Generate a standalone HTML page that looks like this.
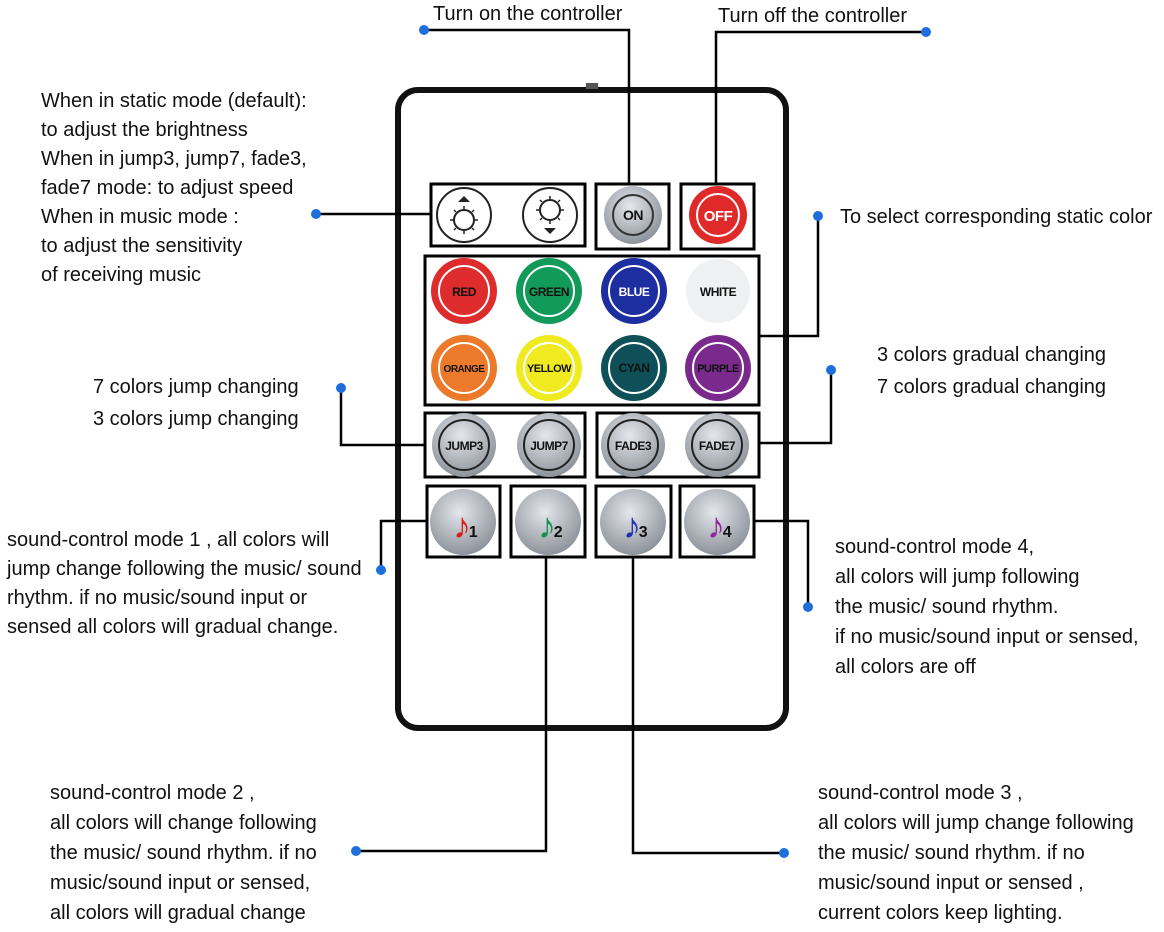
<!DOCTYPE html>
<html><head><meta charset="utf-8"><style>
html,body{margin:0;padding:0;background:#fff;}
svg{display:block}
text{font-family:"Liberation Sans",Arial,sans-serif;font-size:20px;letter-spacing:0;fill:#111}
.b{font-weight:bold;font-size:12px;letter-spacing:-0.5px;text-anchor:middle}
</style></head><body>
<svg width="1164" height="932" viewBox="0 0 1164 932" xmlns="http://www.w3.org/2000/svg">
<defs>
<radialGradient id="g" cx="45%" cy="35%" r="65%"><stop offset="0" stop-color="#e4e7ec"/><stop offset="1" stop-color="#8d939b"/></radialGradient>
</defs>
<rect x="398" y="90" width="388" height="638" rx="20" fill="none" stroke="#111" stroke-width="6"/>
<rect x="586" y="83" width="12" height="6" fill="#555"/>
<g fill="none" stroke="#000" stroke-width="3">
<rect x="431" y="184" width="154" height="62"/>
<rect x="596" y="184" width="73" height="65"/>
<rect x="681" y="184" width="73" height="65"/>
<rect x="425" y="256" width="334" height="149"/>
<rect x="425" y="413" width="160" height="64"/>
<rect x="597" y="413" width="162" height="64"/>
<rect x="427" y="486" width="73" height="71"/>
<rect x="511" y="486" width="74" height="71"/>
<rect x="596" y="486" width="75" height="71"/>
<rect x="680" y="486" width="74" height="71"/>
</g>
<g fill="#fff" stroke="#222" stroke-width="2">
<circle cx="464" cy="215" r="27"/><circle cx="550" cy="215" r="27"/>
<circle cx="464" cy="220" r="10"/><circle cx="550" cy="210" r="10"/>
</g>
<g stroke="#222" stroke-width="1.5">
<path d="M464 206v3M464 231v3M450 220h3M475 220h3M454 210l2 2M472 228l2 2M454 230l2-2M472 212l2-2"/>
<path d="M550 196v3M550 221v3M536 210h3M561 210h3M540 200l2 2M558 218l2 2M540 220l2-2M558 202l2-2"/>
</g>
<polygon points="458,202 464,196 470,202" fill="#222"/>
<polygon points="544,228 550,234 556,228" fill="#222"/>
<circle cx="633" cy="215" r="29" fill="url(#g)"/><circle cx="633" cy="215" r="20" fill="none" stroke="#333" stroke-width="2"/>
<text x="633" y="220" class="b" style="font-size:14px">ON</text>
<circle cx="718" cy="215" r="29" fill="#e02a2a"/><circle cx="718" cy="215" r="21" fill="none" stroke="#fff" stroke-width="2"/>
<text x="718" y="221" class="b" style="font-size:15px;fill:#fff">OFF</text>
<circle cx="464" cy="291" r="33" fill="#de2b2b"/><circle cx="464" cy="291" r="25" fill="none" stroke="#fff" stroke-width="2"/><text x="464" y="296" class="b">RED</text>
<circle cx="549" cy="291" r="33" fill="#129a5a"/><circle cx="549" cy="291" r="25" fill="none" stroke="#fff" stroke-width="2"/><text x="549" y="296" class="b">GREEN</text>
<circle cx="634" cy="291" r="33" fill="#1c2ea0"/><circle cx="634" cy="291" r="25" fill="none" stroke="#fff" stroke-width="2"/><text x="634" y="296" class="b" style="fill:#fff">BLUE</text>
<circle cx="718" cy="291" r="32" fill="#eef0f2"/><text x="718" y="296" class="b">WHITE</text>
<circle cx="464" cy="368" r="33" fill="#ec7a2a"/><circle cx="464" cy="368" r="25" fill="none" stroke="#fff" stroke-width="2"/><text x="464" y="372" class="b" style="font-size:10px">ORANGE</text>
<circle cx="549" cy="368" r="33" fill="#f0ea20"/><circle cx="549" cy="368" r="25" fill="none" stroke="#fff" stroke-width="2"/><text x="549" y="372" class="b" style="font-size:11px">YELLOW</text>
<circle cx="634" cy="368" r="33" fill="#0f5058"/><circle cx="634" cy="368" r="25" fill="none" stroke="#fff" stroke-width="2"/><text x="634" y="372" class="b">CYAN</text>
<circle cx="718" cy="368" r="33" fill="#7a2a8c"/><circle cx="718" cy="368" r="25" fill="none" stroke="#fff" stroke-width="2"/><text x="718" y="372" class="b" style="font-size:11px">PURPLE</text>
<circle cx="464" cy="445" r="32" fill="url(#g)"/><circle cx="464" cy="445" r="25" fill="none" stroke="#222" stroke-width="2"/><text x="464" y="450" class="b">JUMP3</text>
<circle cx="549" cy="445" r="32" fill="url(#g)"/><circle cx="549" cy="445" r="25" fill="none" stroke="#222" stroke-width="2"/><text x="549" y="450" class="b">JUMP7</text>
<circle cx="633" cy="445" r="32" fill="url(#g)"/><circle cx="633" cy="445" r="25" fill="none" stroke="#222" stroke-width="2"/><text x="633" y="450" class="b">FADE3</text>
<circle cx="717" cy="445" r="32" fill="url(#g)"/><circle cx="717" cy="445" r="25" fill="none" stroke="#222" stroke-width="2"/><text x="717" y="450" class="b">FADE7</text>
<circle cx="463" cy="522" r="33" fill="url(#g)"/><text x="453" y="538" style="font-size:36px;fill:#d42020">♪</text><text x="473" y="537" class="b" style="font-size:16px">1</text>
<circle cx="548" cy="522" r="33" fill="url(#g)"/><text x="538" y="538" style="font-size:36px;fill:#159050">♪</text><text x="558" y="537" class="b" style="font-size:16px">2</text>
<circle cx="633" cy="522" r="33" fill="url(#g)"/><text x="623" y="538" style="font-size:36px;fill:#2030b0">♪</text><text x="643" y="537" class="b" style="font-size:16px">3</text>
<circle cx="717" cy="522" r="33" fill="url(#g)"/><text x="707" y="538" style="font-size:36px;fill:#902a9a">♪</text><text x="727" y="537" class="b" style="font-size:16px">4</text>
<g fill="none" stroke="#000" stroke-width="2.5">
<polyline points="424,30 629,30 629,184"/>
<polyline points="926,32 716,32 716,184"/>
<polyline points="316,214 431,214"/>
<polyline points="818,216 818,336 759,336"/>
<polyline points="341,388 341,445 425,445"/>
<polyline points="831,370 831,443 759,443"/>
<polyline points="381,570 381,521 427,521"/>
<polyline points="754,521 808,521 808,607"/>
<polyline points="546,557 546,851 356,851"/>
<polyline points="633,557 633,853 784,853"/>
</g>
<g fill="#1e6fdc">
<circle cx="424" cy="30" r="5"/><circle cx="926" cy="32" r="5"/><circle cx="316" cy="214" r="5"/>
<circle cx="818" cy="216" r="5"/><circle cx="341" cy="388" r="5"/><circle cx="831" cy="370" r="5"/>
<circle cx="381" cy="570" r="5"/><circle cx="808" cy="607" r="5"/><circle cx="356" cy="851" r="5"/><circle cx="784" cy="853" r="5"/>
</g>
<text x="433" y="20">Turn on the controller</text>
<text x="718" y="22">Turn off the controller</text>
<text x="41" y="107">When in static mode (default):</text>
<text x="41" y="136">to adjust the brightness</text>
<text x="41" y="165">When in jump3, jump7, fade3,</text>
<text x="41" y="194">fade7 mode: to adjust speed</text>
<text x="41" y="223">When in music mode :</text>
<text x="41" y="252">to adjust the sensitivity</text>
<text x="41" y="281">of receiving music</text>
<text x="840" y="223">To select corresponding static color</text>
<text x="877" y="361">3 colors gradual changing</text>
<text x="877" y="393">7 colors gradual changing</text>
<text x="93" y="393">7 colors jump changing</text>
<text x="93" y="425">3 colors jump changing</text>
<text x="7" y="546">sound-control mode 1 , all colors will</text>
<text x="7" y="575">jump change following the music/ sound</text>
<text x="7" y="604">rhythm. if no music/sound input or</text>
<text x="7" y="633">sensed all colors will gradual change.</text>
<text x="835" y="553">sound-control mode 4,</text>
<text x="835" y="583">all colors will jump  following</text>
<text x="835" y="613">the music/ sound rhythm.</text>
<text x="835" y="643">if no music/sound input or sensed,</text>
<text x="835" y="673">all colors are off</text>
<text x="50" y="799">sound-control mode 2 ,</text>
<text x="50" y="829">all colors will  change following</text>
<text x="50" y="859">the music/ sound rhythm. if no</text>
<text x="50" y="889">music/sound input or sensed,</text>
<text x="50" y="919">all colors will gradual change</text>
<text x="818" y="799">sound-control mode 3 ,</text>
<text x="818" y="829">all colors will jump change following</text>
<text x="818" y="859">the music/ sound rhythm. if no</text>
<text x="818" y="889">music/sound input or sensed ,</text>
<text x="818" y="919">current colors keep lighting.</text>
</svg>
</body></html>
